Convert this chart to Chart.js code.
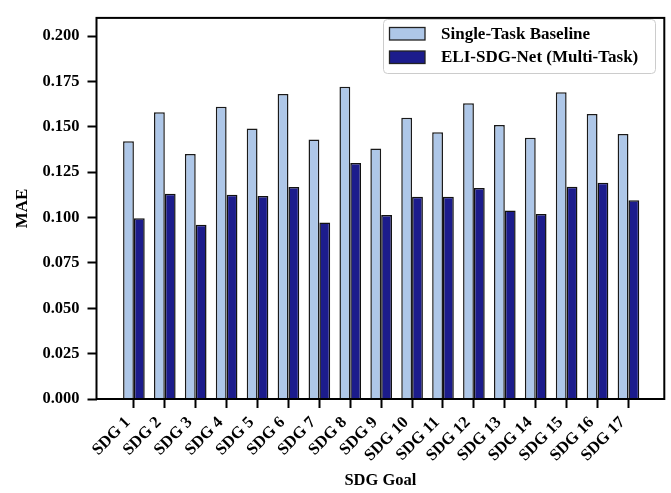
<!DOCTYPE html>
<html>
<head>
<meta charset="utf-8">
<script src="https://cdn.jsdelivr.net/npm/chart.js@4.4.1/dist/chart.umd.min.js"></script>
<style>
  html, body { margin: 0; padding: 0; background: #fff; }
  #wrap { width: 671px; height: 493px; }
</style>
</head>
<body>
<div id="wrap"><canvas id="chart" width="671" height="493"></canvas></div>
<script>
const sdgLabels = ['SDG 1', 'SDG 2', 'SDG 3', 'SDG 4', 'SDG 5', 'SDG 6', 'SDG 7', 'SDG 8', 'SDG 9',
  'SDG 10', 'SDG 11', 'SDG 12', 'SDG 13', 'SDG 14', 'SDG 15', 'SDG 16', 'SDG 17'];
const baselineMAE = [0.142, 0.158, 0.135, 0.161, 0.149, 0.168, 0.143, 0.172, 0.138,
  0.155, 0.147, 0.163, 0.151, 0.144, 0.169, 0.157, 0.146];
const multiTaskMAE = [0.0996, 0.1131, 0.0960, 0.1126, 0.1119, 0.1168, 0.0973, 0.1301, 0.1014,
  0.1115, 0.1114, 0.1162, 0.1039, 0.1019, 0.1169, 0.1192, 0.1095];
const yTicks = [0, 0.025, 0.05, 0.075, 0.1, 0.125, 0.15, 0.175, 0.2];

const serif = "'Liberation Serif', 'Times New Roman', serif";
const lightBlue = '#aec7e8';
const darkBlue = '#1c1c8c';

// box around the plot, like matplotlib spines
const framePlugin = {
  id: 'frame',
  afterDatasetsDraw(chart) {
    const { ctx, chartArea: a } = chart;
    ctx.save();
    ctx.strokeStyle = '#000';
    ctx.lineWidth = 2;
    ctx.strokeRect(a.left, a.top, a.right - a.left, a.bottom - a.top);
    ctx.restore();
  },
};

// legend box in the upper right corner
const legendBox = {
  id: 'legendBox',
  afterDraw(chart) {
    const ctx = chart.ctx;
    ctx.save();
    ctx.beginPath();
    ctx.roundRect(383.5, 19.5, 272, 54, 4);
    ctx.fillStyle = 'rgba(255,255,255,0.85)';
    ctx.fill();
    ctx.strokeStyle = '#cccccc';
    ctx.lineWidth = 1;
    ctx.stroke();
    ctx.font = `bold 17px ${serif}`;
    ctx.textBaseline = 'middle';
    chart.data.datasets.forEach((ds, i) => {
      const y = 27.5 + i * 23.5;
      ctx.fillStyle = ds.backgroundColor;
      ctx.fillRect(389.5, y, 35.5, 12.5);
      ctx.strokeStyle = '#222';
      ctx.lineWidth = 1.3;
      ctx.strokeRect(389.5, y, 35.5, 12.5);
      ctx.fillStyle = '#000';
      ctx.fillText(ds.label, 441, y + 6.8);
    });
    ctx.restore();
  },
};

new Chart(document.getElementById('chart'), {
  type: 'bar',
  data: {
    datasets: [
      {
        label: 'Single-Task Baseline',
        data: baselineMAE.map((v, i) => ({ x: i, y: v })),
        backgroundColor: lightBlue,
        borderColor: '#1a1a1a',
        borderWidth: 1.5,
      },
      {
        label: 'ELI-SDG-Net (Multi-Task)',
        data: multiTaskMAE.map((v, i) => ({ x: i, y: v })),
        backgroundColor: darkBlue,
        borderColor: '#111',
        borderWidth: 1.5,
      },
    ],
  },
  options: {
    responsive: false,
    animation: false,
    devicePixelRatio: 1,
    categoryPercentage: 0.7,
    barPercentage: 1.0,
    layout: { padding: { left: 0, top: 11, right: 6.7, bottom: 0 } },
    plugins: {
      legend: { display: false },
      tooltip: { enabled: false },
    },
    scales: {
      x: {
        type: 'linear',
        offset: false,
        min: -1.21,
        max: 17.16,
        afterFit: s => { s.height = 94; },
        afterBuildTicks: s => { s.ticks = sdgLabels.map((_, i) => ({ value: i })); },
        border: { display: false },
        grid: { display: true, offset: false, drawOnChartArea: false, drawTicks: true, tickLength: 9, tickWidth: 2, tickColor: '#000' },
        ticks: {
          autoSkip: false,
          maxRotation: 45,
          minRotation: 45,
          padding: 5,
          labelOffset: -6,
          color: '#000',
          font: { family: serif, size: 16.5, weight: 'bold' },
          callback: v => sdgLabels[v],
        },
        title: {
          display: true,
          text: 'SDG Goal',
          color: '#000',
          font: { family: serif, size: 16.5, weight: 'bold' },
          padding: { top: 0, bottom: 2 },
        },
      },
      y: {
        min: 0,
        max: 0.21,
        afterFit: s => { s.width = 96.5; },
        afterBuildTicks: s => { s.ticks = yTicks.map(v => ({ value: v })); },
        border: { display: false },
        grid: { display: true, drawOnChartArea: false, drawTicks: true, tickLength: 9, tickWidth: 2, tickColor: '#000' },
        ticks: {
          padding: 8,
          color: '#000',
          font: { family: serif, size: 16.5, weight: 'bold' },
          callback: v => v.toFixed(3),
        },
        title: {
          display: true,
          text: 'MAE',
          color: '#000',
          font: { family: serif, size: 17, weight: 'bold' },
          padding: { top: 12, bottom: 0 },
        },
      },
    },
  },
  plugins: [framePlugin, legendBox],
});
</script>
</body>
</html>
